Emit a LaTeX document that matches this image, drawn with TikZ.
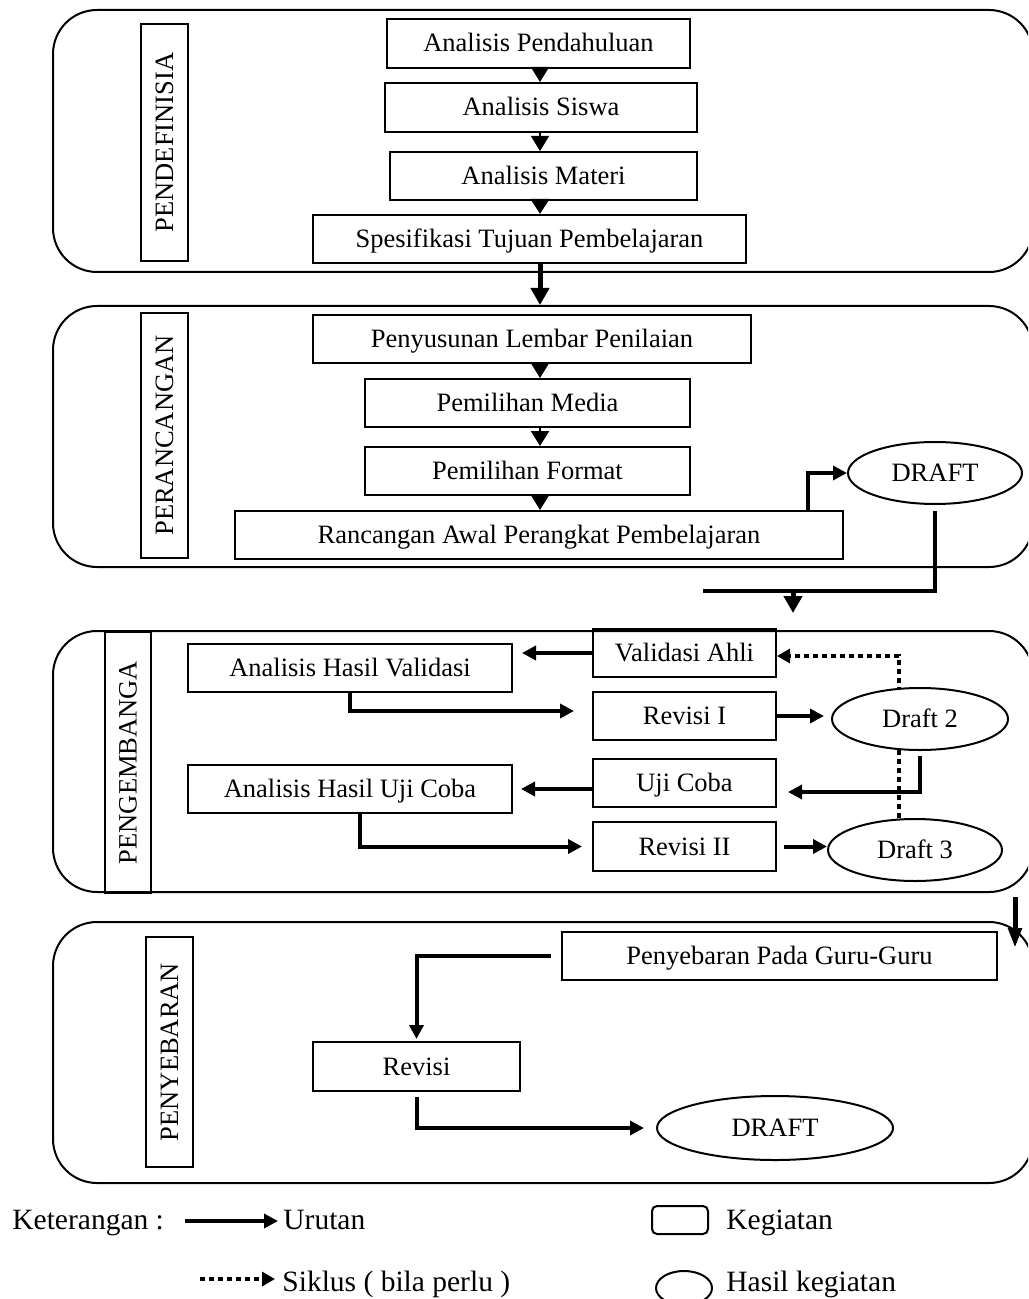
\documentclass[tikz,border=0pt]{standalone}
\usepackage{fontspec}
\setmainfont{Liberation Serif}
\usetikzlibrary{arrows.meta,shapes.geometric,backgrounds}
\newcommand\mainf{\fontsize{13.25pt}{16pt}\selectfont}
\newcommand\legf{\fontsize{14.75pt}{18pt}\selectfont}
\tikzset{
  kbox/.style={draw,line width=1pt,inner sep=0pt,font=\mainf,text height=0.9em,text depth=0.05em},
  ell/.style={draw,ellipse,fill=white,line width=1pt,inner sep=0pt,font=\mainf,text height=0.9em,text depth=0.05em},
  panel/.style={draw,line width=1pt,rounded corners=22pt,inner sep=0pt},
  tri/.style={line width=1pt,-{Triangle[width=9pt,length=7.5pt]}},
  tritk/.style={line width=2pt,-{Triangle[width=9pt,length=7.5pt]}},
  flow/.style={line width=2.5pt,-{Triangle[width=9pt,length=8.5pt]}},
  flowb/.style={line width=2.5pt,-{Triangle[width=6.5pt,length=10pt]}},
  thk/.style={line width=2pt,-{Triangle[width=7pt,length=7pt]}},
  thkline/.style={line width=2pt},
  dotarrow/.style={line width=2pt,dash pattern=on 2.5pt off 2pt,-{Triangle[width=7pt,length=6.5pt]}},
  legtext/.style={inner sep=0pt,font=\legf},
}
\newcommand\mkbox[6]{\node[kbox,minimum width={(#4-#2)/2},minimum height={(#5-#3)/2}] (#1) at ({(#2+#4)/2},{(#3+#5)/2}) {#6};}
\newcommand\mklabel[6]{\node[kbox,rotate=90,minimum width={(#5-#3)/2},minimum height={(#4-#2)/2}] (#1) at ({(#2+#4)/2},{(#3+#5)/2}) {#6};}
\newcommand\mkell[6]{\node[ell,minimum width={#4},minimum height={#5}] (#1) at (#2,#3) {#6};}
\newcommand\mkpanel[5]{\node[panel,minimum width={(#4-#2)/2},minimum height={(#5-#3)/2}] (#1) at ({(#2+#4)/2},{(#3+#5)/2}) {};}
\begin{document}
\begin{tikzpicture}[x=0.5pt,y=-0.5pt]
\path[use as bounding box] (0,0) rectangle (1028,1299);
\clip (0,0) rectangle (1028,1299);

% panels
\mkpanel{P1}{53}{10}{1033}{272}
\mkpanel{P2}{53}{306}{1033}{567}
\mkpanel{P3}{53}{631}{1033}{892}
\mkpanel{P4}{53}{922}{1033}{1183}

% panel labels
\mklabel{L1}{141}{24}{188}{261}{PENDEFINISIA}
\mklabel{L2}{141}{313}{188}{558}{PERANCANGAN}
\mklabel{L3}{105}{632}{151}{893}{PENGEMBANGA}
\mklabel{L4}{146}{937}{193}{1167}{PENYEBARAN}

% panel 1
\mkbox{a1}{387}{19}{690}{68}{Analisis Pendahuluan}
\mkbox{a2}{385}{83}{697}{132}{Analisis Siswa}
\mkbox{a3}{390}{152}{697}{200}{Analisis Materi}
\mkbox{a4}{313}{215}{746}{263}{Spesifikasi Tujuan Pembelajaran}

% panel 2
\mkbox{b1}{313}{315}{751}{363}{Penyusunan Lembar Penilaian}
\mkbox{b2}{365}{379}{690}{427}{Pemilihan Media}
\mkbox{b3}{365}{447}{690}{495}{Pemilihan Format}
\mkbox{b4}{235}{511}{843}{559}{Rancangan Awal Perangkat Pembelajaran}
\mkell{d1}{935}{473}{87}{31}{DRAFT}

% panel 3
\mkbox{c1}{188}{644}{512}{692}{Analisis Hasil Validasi}
\mkbox{c2}{188}{765}{512}{813}{Analisis Hasil Uji Coba}
\mkbox{va}{593}{629}{776}{677}{Validasi Ahli}
\mkbox{r1}{593}{692}{776}{740}{Revisi I}
\mkbox{uc}{593}{759}{776}{807}{Uji Coba}
\mkbox{r2}{593}{822}{776}{871}{Revisi II}
\mkell{e2}{920}{719}{88}{31}{Draft 2}
\mkell{e3}{915}{850}{87}{31}{Draft 3}

% panel 4
\mkbox{g1}{562}{932}{997}{980}{Penyebaran Pada Guru-Guru}
\mkbox{rv}{313}{1042}{520}{1091}{Revisi}
\mkell{d4}{775}{1128}{118}{32}{DRAFT}

% helper coordinates
\coordinate (cx) at (540,0);
\coordinate (k1) at (808,0);
\coordinate (j1) at (703,591);
\coordinate (j2) at (793,591);
\coordinate (j3) at (793,613);
\coordinate (q1) at (1015,897);
\coordinate (q2) at (1015,948);

% panel 1 connectors
\draw[tri] (cx |- a1.south) -- (cx |- a2.north);
\draw[tri] (cx |- a2.south) -- (cx |- a3.north);
\draw[tritk] (cx |- a3.south) -- (cx |- a4.north);
\draw[flow] (cx |- a4.south) -- (cx |- P2.north);

% panel 2 connectors
\draw[tri] (cx |- b1.south) -- (cx |- b2.north);
\draw[tri] (cx |- b2.south) -- (cx |- b3.north);
\draw[tri] (cx |- b3.south) -- (cx |- b4.north);
\draw[thk] (k1 |- b4.north) |- (d1.west);
\draw[thkline] ([yshift=-3pt]d1.south) |- (j1);
\draw[flow] (j2) -- (j3);

% panel 3 connectors
\begin{pgfonlayer}{background}
\draw[dotarrow] ([xshift=-8pt]e3.north) |- ([yshift=-1.5pt]va.east);
\end{pgfonlayer}
\draw[thk,shorten >=4.5pt] (va.west) -- (va.west -| c1.east);
\draw[thk,shorten >=9pt] (c1.south) |- ([yshift=2.5pt]r1.west);
\draw[thk,shorten >=3.5pt] (r1.east) -- (r1.east -| e2.west);
\draw[thk,shorten >=5.5pt] ([yshift=-2.5pt]e2.south) |- ([yshift=-4.5pt]uc.east);
\draw[thk,shorten >=4pt] (uc.west |- c2.east) -- (c2.east);
\draw[thk,shorten >=5pt] ([xshift=5pt]c2.south) |- (r2.west);
\draw[thk,shorten <=3.5pt] (r2.east) -- (r2.east -| e3.west);
\draw[flowb] (q1) -- (q2);

% panel 4 connectors
\draw[thk,shorten >=1pt] ([xshift=-5pt]g1.west) -| (rv.north);
\draw[thk,shorten >=6pt] ([yshift=-2.5pt]rv.south) |- (d4.west);

% legend
\coordinate (s1) at (185,1221);
\coordinate (s2) at (278,1221);
\coordinate (t1) at (200,1279);
\coordinate (t2) at (275,1279);
\node[legtext,anchor=base west] (kt) at (12,1229) {Keterangan :};
\draw[thk] (s1) -- (s2);
\node[legtext,anchor=base west] (ur) at (283,1229) {Urutan};
\node[draw,line width=1pt,rounded corners=2.5pt,minimum width=28pt,minimum height=14pt,inner sep=0pt] (lb) at (680,1220) {};
\node[legtext,anchor=base west] (kg) at (726,1229) {Kegiatan};
\draw[dotarrow] (t1) -- (t2);
\node[legtext,anchor=base west] (sk) at (282,1291) {Siklus ( bila perlu )};
\node[draw,ellipse,line width=1pt,minimum width=28pt,minimum height=17pt,inner sep=0pt] (le) at (684,1288) {};
\node[legtext,anchor=base west] (hk) at (726,1291) {Hasil kegiatan};
\end{tikzpicture}
\end{document}
